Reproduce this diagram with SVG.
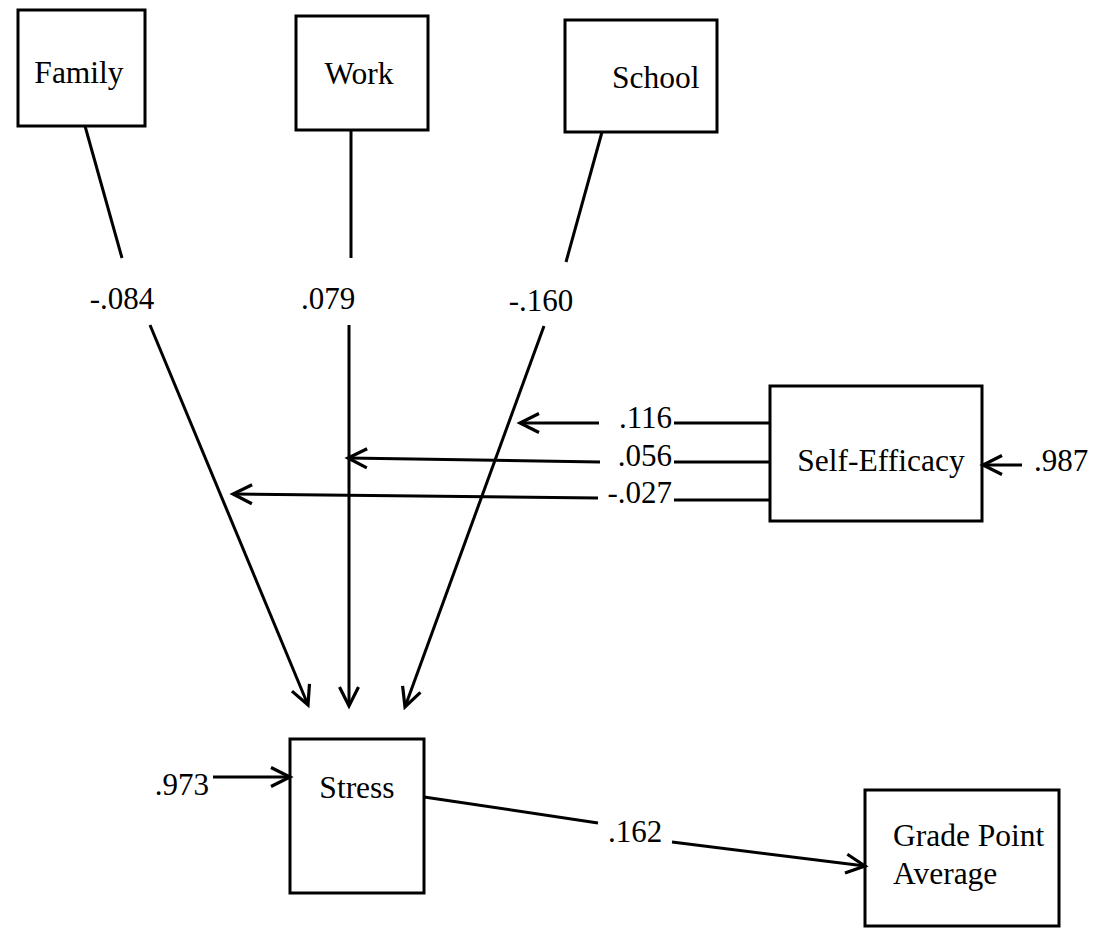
<svg xmlns="http://www.w3.org/2000/svg" width="1098" height="929" viewBox="0 0 1098 929">
  <style>
    .box { fill: #fff; stroke: #000; stroke-width: 3; }
    .lbl { font-family: "Liberation Serif", "Times New Roman", serif; font-size: 31.5px; fill: #000; }
    .coef { font-family: "Liberation Serif", "Times New Roman", serif; font-size: 31px; fill: #000; }
    .edge { stroke: #000; stroke-width: 3; fill: none; }
    .arrow { marker-end: url(#head); }
  </style>
  <defs>
    <marker id="head" markerUnits="userSpaceOnUse" markerWidth="28" markerHeight="28" refX="22" refY="14" orient="auto">
      <path d="M3,4.5 L22,14 L3,23.5" fill="none" stroke="#000" stroke-width="3.2"/>
    </marker>
  </defs>
  <rect width="1098" height="929" fill="#fff"/>

  <g id="family">
    <rect class="box" x="18" y="10" width="127" height="116"/>
    <text class="lbl" x="79" y="83" text-anchor="middle">Family</text>
  </g>
  <g id="work">
    <rect class="box" x="296" y="16" width="132" height="114"/>
    <text class="lbl" x="359" y="84" text-anchor="middle">Work</text>
  </g>
  <g id="school">
    <rect class="box" x="565" y="20" width="152" height="112"/>
    <text class="lbl" x="612" y="88">School</text>
  </g>
  <g id="self-efficacy">
    <rect class="box" x="770" y="386" width="212" height="135"/>
    <text class="lbl" x="881" y="471" text-anchor="middle">Self-Efficacy</text>
  </g>
  <g id="stress">
    <rect class="box" x="290" y="739" width="134" height="154"/>
    <text class="lbl" x="357" y="798" text-anchor="middle">Stress</text>
  </g>
  <g id="gpa">
    <rect class="box" x="865" y="790" width="194" height="136"/>
    <text class="lbl" x="893" y="846">Grade Point</text>
    <text class="lbl" x="893" y="884">Average</text>
  </g>

  <g id="connectors">
    <!-- Family -> Stress -->
    <line class="edge" x1="85" y1="126" x2="122" y2="258"/>
    <line class="edge arrow" x1="150" y1="325" x2="308" y2="705"/>
    <!-- Work -> Stress -->
    <line class="edge" x1="351" y1="130" x2="351" y2="258"/>
    <line class="edge arrow" x1="349" y1="325" x2="349" y2="706"/>
    <!-- School -> Stress -->
    <line class="edge" x1="602" y1="132" x2="566" y2="262"/>
    <line class="edge arrow" x1="544" y1="326" x2="405" y2="707"/>
    <!-- Self-Efficacy moderation paths -->
    <line class="edge" x1="674" y1="423" x2="770" y2="423"/>
    <line class="edge arrow" x1="599" y1="423" x2="520" y2="423"/>
    <line class="edge" x1="674" y1="462" x2="770" y2="462"/>
    <line class="edge arrow" x1="600" y1="462" x2="348" y2="458"/>
    <line class="edge" x1="674" y1="500" x2="770" y2="500"/>
    <line class="edge arrow" x1="598" y1="498" x2="233" y2="494"/>
    <!-- disturbance terms -->
    <line class="edge arrow" x1="1022" y1="465" x2="983" y2="465"/>
    <line class="edge arrow" x1="213" y1="777" x2="290" y2="777"/>
    <!-- Stress -> GPA -->
    <line class="edge" x1="424" y1="797" x2="598" y2="823"/>
    <line class="edge arrow" x1="672" y1="842" x2="865" y2="866"/>
  </g>

  <g id="coefficients">
    <text class="coef" x="122" y="309" text-anchor="middle">-.084</text>
    <text class="coef" x="328" y="309" text-anchor="middle">.079</text>
    <text class="coef" x="541" y="311" text-anchor="middle">-.160</text>
    <text class="coef" x="672" y="428" text-anchor="end">.116</text>
    <text class="coef" x="672" y="466" text-anchor="end">.056</text>
    <text class="coef" x="672" y="503" text-anchor="end">-.027</text>
    <text class="coef" x="1034" y="471">.987</text>
    <text class="coef" x="209" y="795" text-anchor="end">.973</text>
    <text class="coef" x="608" y="842">.162</text>
  </g>
</svg>
